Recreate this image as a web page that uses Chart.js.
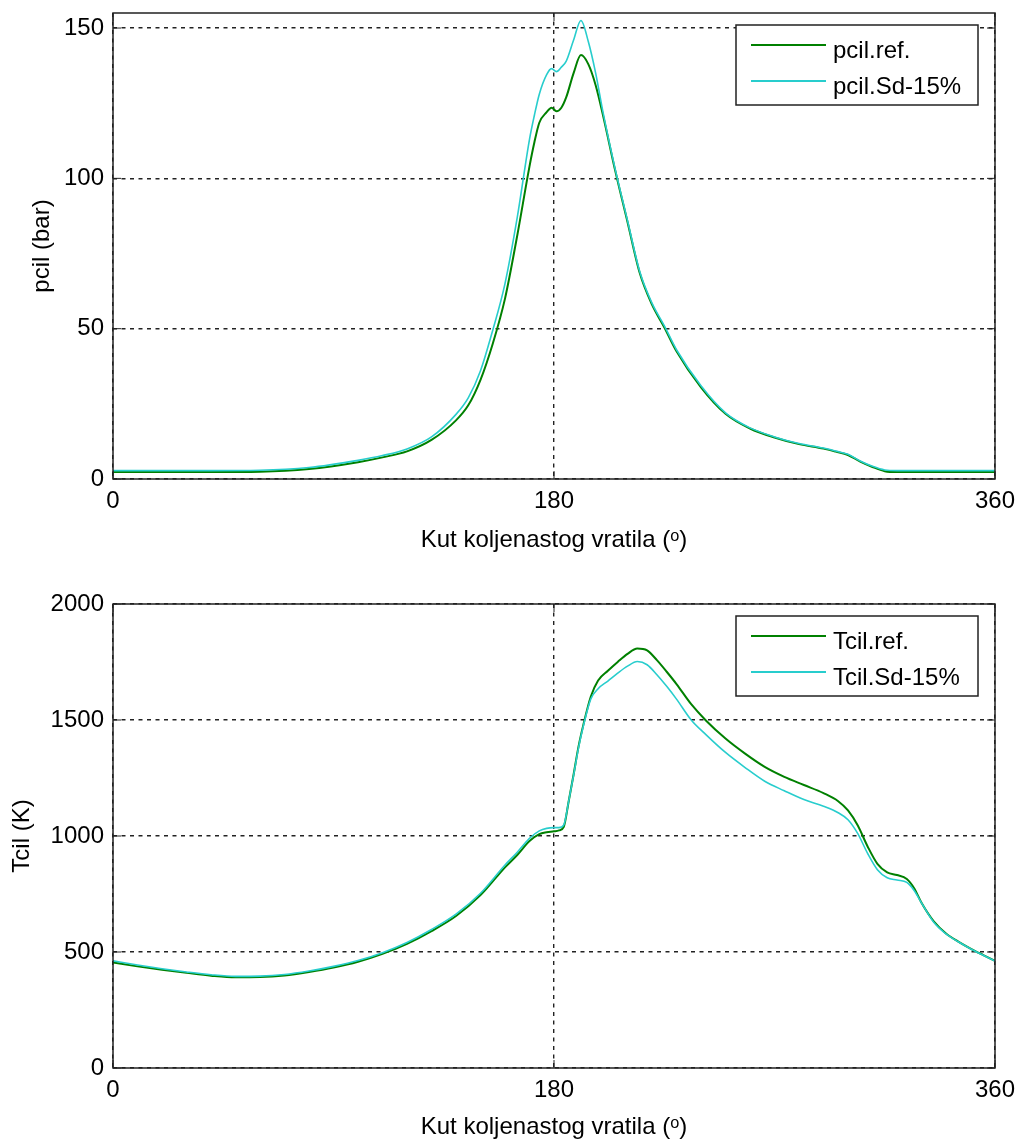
<!DOCTYPE html>
<html>
<head>
<meta charset="utf-8">
<script src="https://cdn.jsdelivr.net/npm/chart.js@4.4.1/dist/chart.umd.min.js"></script>
<style>
  html, body { margin: 0; padding: 0; background: #fff; }
  .panel { position: absolute; left: 0; width: 1015px; height: 571px; }
  canvas { display: block; width: 1015px; height: 571px; }
</style>
</head>
<body>
<div class="panel" style="top:0"><canvas id="pChart" width="1015" height="571"></canvas></div>
<div class="panel" style="top:571px"><canvas id="tChart" width="1015" height="571"></canvas></div>
<script>
// Podaci očitani s dijagrama
const xTicks = [0, 180, 360];
const pTicks = [0, 50, 100, 150];
const tTicks = [0, 500, 1000, 1500, 2000];

// tlak u cilindru (bar)
const pAngle = [0, 20, 40, 60, 80, 100, 110, 120, 130, 140, 145, 150, 155, 160, 165, 170, 172, 174, 177, 179,
  181, 183, 185, 188, 191, 194, 197, 200, 205, 210, 215, 220, 225, 230, 240, 250, 260, 270, 280, 290,
  295, 300, 305, 310, 315, 320, 340, 360];
const pcilRef = [2.3, 2.3, 2.3, 2.4, 3.3, 5.6, 7.2, 9.2, 13, 19.5, 24.5, 33, 45, 60, 81, 104, 112, 118.5, 122, 123.5,
  122.3, 123.5, 127, 135, 141, 138, 131, 121, 102.5, 85.5, 68.5, 58, 50.5, 42.5, 30.5, 21.7, 16.8, 13.8, 11.6, 10.1,
  9.1, 8, 5.8, 4, 2.6, 2.3, 2.3, 2.3];
const pcilSd = [2.8, 2.8, 2.8, 2.9, 3.8, 6.2, 7.8, 10, 14, 21.5, 27, 36, 49.5, 65, 87, 113, 121, 128, 134.5, 136.5,
  135.5, 137, 139, 146, 152.5, 145.5, 135, 122, 103, 86, 69, 58.5, 51, 43, 31, 22, 17, 14, 11.8, 10.3,
  9.3, 8.2, 6, 4.2, 3, 2.8, 2.8, 2.8];

// temperatura u cilindru (K)
const tAngle = [0, 10, 20, 30, 40, 50, 60, 70, 80, 90, 100, 110, 120, 130, 140, 150, 160, 165, 170, 174,
  177, 180, 182, 184, 186, 188, 190, 192, 195, 198, 202, 206, 210, 214, 218, 222, 226, 230, 236, 242,
  250, 258, 266, 274, 282, 290, 296, 300, 304, 308, 312, 316, 320, 324, 327, 330, 335, 340, 345, 350, 355, 360];
const tcilRef = [455, 438, 423, 410, 398, 391, 392, 399, 414, 433, 458, 492, 535, 590, 655, 745, 865, 918, 978, 1008,
  1016, 1020, 1024, 1040, 1150, 1265, 1385, 1480, 1600, 1670, 1712, 1750, 1785, 1808, 1800, 1758, 1708, 1655, 1568, 1498,
  1420, 1355, 1298, 1255, 1220, 1185, 1150, 1110, 1045, 955, 880, 843, 832, 815, 775, 712, 632, 580, 545, 515, 488, 462];
const tcilSd = [462, 444, 428, 414, 402, 395, 396, 403, 418, 438, 463, 497, 541, 597, 663, 753, 875, 930, 990, 1022,
  1033, 1036, 1036, 1048, 1150, 1262, 1380, 1475, 1590, 1635, 1668, 1702, 1732, 1752, 1738, 1695, 1645, 1590, 1500, 1437,
  1360, 1295, 1236, 1195, 1157, 1128, 1100, 1070, 1010, 925, 855, 820, 810, 800, 765, 712, 628, 578, 544, 514, 487, 461];

const GREEN = 'rgb(0,128,0)';
const CYAN = 'rgb(40,205,205)';
const FONT = { family: '"Liberation Sans", Arial, sans-serif', size: 24 };

// okvir osi i unutarnje crtice
const frame = {
  id: 'frame',
  afterDatasetsDraw(chart) {
    const { ctx, chartArea: a, scales } = chart;
    ctx.save();
    ctx.setLineDash([]);
    ctx.strokeStyle = '#222';
    ctx.lineWidth = 1.5;
    ctx.strokeRect(a.left, a.top, a.right - a.left, a.bottom - a.top);
    ctx.lineWidth = 1;
    ctx.beginPath();
    scales.x.ticks.forEach(t => {
      const px = scales.x.getPixelForValue(t.value);
      ctx.moveTo(px, a.bottom); ctx.lineTo(px, a.bottom - 8);
      ctx.moveTo(px, a.top); ctx.lineTo(px, a.top + 8);
    });
    scales.y.ticks.forEach(t => {
      const py = scales.y.getPixelForValue(t.value);
      ctx.moveTo(a.left, py); ctx.lineTo(a.left + 8, py);
      ctx.moveTo(a.right, py); ctx.lineTo(a.right - 8, py);
    });
    ctx.stroke();
    ctx.restore();
  }
};

// legenda u okviru (kao u MATLAB-u)
const boxLegend = {
  id: 'boxLegend',
  afterDraw(chart) {
    const { ctx, chartArea: a } = chart;
    const x0 = a.right - 259, y0 = a.top + 12, w = 242, h = 80;
    ctx.save();
    ctx.fillStyle = '#fff';
    ctx.fillRect(x0, y0, w, h);
    ctx.strokeStyle = '#222';
    ctx.lineWidth = 1.5;
    ctx.strokeRect(x0, y0, w, h);
    ctx.font = `${FONT.size}px ${FONT.family}`;
    ctx.textBaseline = 'alphabetic';
    chart.data.datasets.forEach((ds, i) => {
      const yy = y0 + 20 + i * 36;
      ctx.strokeStyle = ds.borderColor;
      ctx.lineWidth = 2;
      ctx.beginPath();
      ctx.moveTo(x0 + 15, yy);
      ctx.lineTo(x0 + 90, yy);
      ctx.stroke();
      ctx.fillStyle = '#000';
      ctx.fillText(ds.label, x0 + 97, yy + 13);
    });
    ctx.restore();
  }
};

const toPoints = (xs, ys) => xs.map((x, i) => ({ x: x, y: ys[i] }));

// bez dodatnog razmaka za oznake, da površina grafa bude točno gdje treba
const noPad = s => { s.paddingTop = 0; s.paddingBottom = 0; s.paddingLeft = 0; s.paddingRight = 0; };

const makeChart = (id, cfg) => {
  const H = 571;
  return new Chart(document.getElementById(id), {
    type: 'line',
    data: {
      datasets: [
        { label: cfg.labels[0], data: toPoints(cfg.angle, cfg.ref), borderColor: GREEN, borderWidth: 2,
          pointRadius: 0, order: 1, cubicInterpolationMode: 'monotone' },
        { label: cfg.labels[1], data: toPoints(cfg.angle, cfg.sd), borderColor: CYAN, borderWidth: 1.6,
          pointRadius: 0, order: 0, cubicInterpolationMode: 'monotone' }
      ]
    },
    options: {
      responsive: false,
      animation: false,
      events: [],
      layout: { padding: { top: cfg.top, right: 20, left: 0, bottom: 0 } },
      plugins: { legend: { display: false }, tooltip: { enabled: false } },
      scales: {
        x: {
          type: 'linear', min: 0, max: 360,
          afterBuildTicks: s => { s.ticks = xTicks.map(v => ({ value: v })); },
          afterFit: s => { s.height = H - cfg.bottom; noPad(s); },
          grid: { color: '#222', lineWidth: 1.4, drawTicks: false },
          border: { display: false, dash: [4, 4.5] },
          ticks: { font: FONT, color: '#000', padding: 8, maxRotation: 0, autoSkip: false, callback: v => String(v) },
          title: { display: true, text: 'Kut koljenastog vratila (ᵒ)', font: FONT, color: '#000',
            padding: { top: 0, bottom: cfg.xTitlePad } }
        },
        y: {
          min: 0, max: cfg.ymax,
          afterBuildTicks: s => { s.ticks = cfg.yTicks.map(v => ({ value: v })); },
          afterFit: s => { s.width = 113; noPad(s); },
          grid: { color: '#222', lineWidth: 1.4, drawTicks: false },
          border: { display: false, dash: [4, 4.5] },
          ticks: { font: FONT, color: '#000', padding: 9, autoSkip: false, callback: v => String(v) },
          title: { display: true, text: cfg.yTitle, font: FONT, color: '#000',
            padding: { top: cfg.yTitlePad, bottom: 0 } }
        }
      }
    },
    plugins: [frame, boxLegend]
  });
};

document.addEventListener('DOMContentLoaded', () => {
  makeChart('pChart', {
    angle: pAngle, ref: pcilRef, sd: pcilSd,
    labels: ['pcil.ref.', 'pcil.Sd-15%'],
    yTitle: 'pcil (bar)', yTicks: pTicks, ymax: 155,
    top: 13, bottom: 479, xTitlePad: 16, yTitlePad: 28
  });
  makeChart('tChart', {
    angle: tAngle, ref: tcilRef, sd: tcilSd,
    labels: ['Tcil.ref.', 'Tcil.Sd-15%'],
    yTitle: 'Tcil (K)', yTicks: tTicks, ymax: 2000,
    top: 33, bottom: 497, xTitlePad: 0, yTitlePad: 8
  });
});
</script>
</body>
</html>
